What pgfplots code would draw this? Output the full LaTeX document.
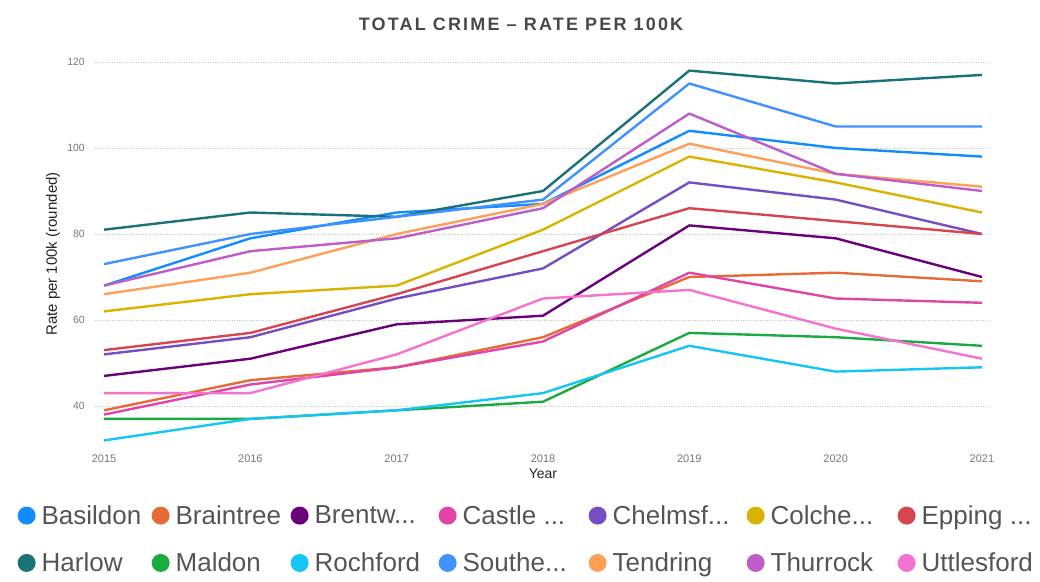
\documentclass[border=0pt]{standalone}
\usepackage{fontspec}
\setmainfont{Liberation Sans}
\usepackage{pgfplots}
\pgfplotsset{compat=1.18}
\definecolor{cBasildon}{HTML}{118DFF}
\definecolor{cBraintree}{HTML}{E66C37}
\definecolor{cBrentwood}{HTML}{6B007B}
\definecolor{cCastle}{HTML}{E044A7}
\definecolor{cChelmsford}{HTML}{744EC2}
\definecolor{cColchester}{HTML}{D9B300}
\definecolor{cEpping}{HTML}{D64550}
\definecolor{cHarlow}{HTML}{197278}
\definecolor{cMaldon}{HTML}{1AAB40}
\definecolor{cRochford}{HTML}{15C6F4}
\definecolor{cSouthend}{HTML}{4092FF}
\definecolor{cTendring}{HTML}{FFA058}
\definecolor{cThurrock}{HTML}{BE5DC9}
\definecolor{cUttlesford}{HTML}{F472D0}
\definecolor{txtgray}{HTML}{555555}
\definecolor{tickgray}{HTML}{777777}
\definecolor{titlegray}{HTML}{484848}
\definecolor{labelgray}{HTML}{252423}
\begin{document}
\begin{tikzpicture}[x=1pt,y=1pt]
\path[use as bounding box] (0,0) rectangle (1040,581);
\begin{axis}[
  at={(95pt,132pt)}, anchor=south west,
  scale only axis, width=895pt, height=387pt,
  xmin=2014.938, xmax=2021.055, ymin=30, ymax=120,
  xtick={2015,2016,2017,2018,2019,2020,2021},
  ytick={40,60,80,100,120},
  /pgf/number format/assume math mode=true,
  /pgf/number format/set thousands separator={},
  axis line style={draw=none},
  major tick length=0pt,
  ymajorgrids, grid style={dotted, line width=0.9pt, black!22},
  xticklabel style={font=\fontsize{11}{13}\selectfont, text=tickgray, inner sep=0pt, yshift=-6pt, anchor=north},
  yticklabel style={font=\fontsize{10.5}{12}\selectfont, text=tickgray, inner sep=0pt, xshift=-10pt, anchor=east},
  every axis plot/.append style={line width=2.4pt, line join=round},
  legend image code/.code={\fill[#1, draw=none] (9pt,0pt) circle (9pt);},
  legend columns=7,
  legend style={at={(axis description cs:-0.09,-0.135)}, anchor=north west, draw=none, fill=none,
     font=\fontsize{26}{29}\selectfont, text=txtgray,
     nodes={inner xsep=0pt, inner ysep=2pt},
     /tikz/every even column/.append style={column sep=0pt},
     row sep=23pt},
  legend cell align=left,
]
\addplot[color=cBasildon] coordinates {(2015,68) (2016,79) (2017,85) (2018,87) (2019,104) (2020,100) (2021,98)};
\addlegendentry{\makebox[116pt][l]{\hspace{6pt}Basildon}}
\addplot[color=cBraintree] coordinates {(2015,39) (2016,46) (2017,49) (2018,56) (2019,70) (2020,71) (2021,69)};
\addlegendentry{\makebox[121pt][l]{\hspace{6pt}Braintree}}
\addplot[color=cBrentwood] coordinates {(2015,47) (2016,51) (2017,59) (2018,61) (2019,82) (2020,79) (2021,70)};
\addlegendentry{\makebox[130pt][l]{\hspace{6pt}Brentw...}}
\addplot[color=cCastle] coordinates {(2015,38) (2016,45) (2017,49) (2018,55) (2019,71) (2020,65) (2021,64)};
\addlegendentry{\makebox[132pt][l]{\hspace{6pt}Castle ...}}
\addplot[color=cChelmsford] coordinates {(2015,52) (2016,56) (2017,65) (2018,72) (2019,92) (2020,88) (2021,80)};
\addlegendentry{\makebox[140pt][l]{\hspace{6pt}Chelmsf...}}
\addplot[color=cColchester] coordinates {(2015,62) (2016,66) (2017,68) (2018,81) (2019,98) (2020,92) (2021,85)};
\addlegendentry{\makebox[133pt][l]{\hspace{6pt}Colche...}}
\addplot[color=cEpping] coordinates {(2015,53) (2016,57) (2017,66) (2018,76) (2019,86) (2020,83) (2021,80)};
\addlegendentry{\makebox[120pt][l]{\hspace{6pt}Epping ...}}
\addplot[color=cHarlow] coordinates {(2015,81) (2016,85) (2017,84) (2018,90) (2019,118) (2020,115) (2021,117)};
\addlegendentry{\makebox[116pt][l]{\hspace{6pt}Harlow}}
\addplot[color=cMaldon] coordinates {(2015,37) (2016,37) (2017,39) (2018,41) (2019,57) (2020,56) (2021,54)};
\addlegendentry{\makebox[121pt][l]{\hspace{6pt}Maldon}}
\addplot[color=cRochford] coordinates {(2015,32) (2016,37) (2017,39) (2018,43) (2019,54) (2020,48) (2021,49)};
\addlegendentry{\makebox[130pt][l]{\hspace{6pt}Rochford}}
\addplot[color=cSouthend] coordinates {(2015,73) (2016,80) (2017,84) (2018,88) (2019,115) (2020,105) (2021,105)};
\addlegendentry{\makebox[132pt][l]{\hspace{6pt}Southe...}}
\addplot[color=cTendring] coordinates {(2015,66) (2016,71) (2017,80) (2018,87) (2019,101) (2020,94) (2021,91)};
\addlegendentry{\makebox[140pt][l]{\hspace{6pt}Tendring}}
\addplot[color=cThurrock] coordinates {(2015,68) (2016,76) (2017,79) (2018,86) (2019,108) (2020,94) (2021,90)};
\addlegendentry{\makebox[133pt][l]{\hspace{6pt}Thurrock}}
\addplot[color=cUttlesford] coordinates {(2015,43) (2016,43) (2017,52) (2018,65) (2019,67) (2020,58) (2021,51)};
\addlegendentry{\makebox[120pt][l]{\hspace{6pt}Uttlesford}}
\end{axis}
\node[font=\fontsize{18}{21}\selectfont\bfseries\addfontfeatures{LetterSpace=12}, text=titlegray] at (521,557) {TOTAL CRIME – RATE PER 100K};
\node[font=\fontsize{14}{16}\selectfont, text=labelgray] at (543,107) {Year};
\node[font=\fontsize{15}{17}\selectfont, text=labelgray, rotate=90] at (53,327) {Rate per 100k (rounded)};
\end{tikzpicture}
\end{document}
